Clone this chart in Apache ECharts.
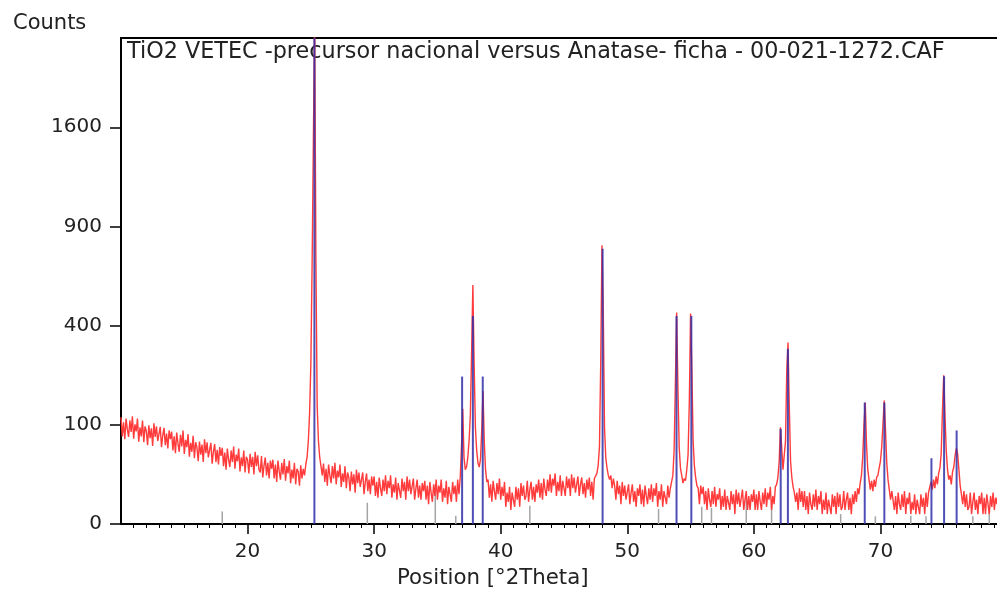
<!DOCTYPE html>
<html>
<head>
<meta charset="utf-8">
<script src="https://cdn.jsdelivr.net/npm/echarts@6/dist/echarts.min.js"></script>
<style>
  html, body { margin: 0; padding: 0; background: #fff; overflow: hidden; }
  #chart { width: 1007px; height: 594px; }
</style>
</head>
<body>
<div id="chart"></div>
<script>
// ---- Data ----
const titleText = 'TiO2 VETEC -precursor nacional versus Anatase- ficha - 00-021-1272.CAF';
const yAxisTitle = 'Counts';
const xAxisTitle = 'Position [°2Theta]';

// measured scan: counts on a regular 2θ grid starting at 10°, step 0.1°
const twoThetaStart = 10;
const twoThetaStep = 0.1;
const scanCounts = [
  116, 78, 105, 73, 113, 91, 77, 109, 86, 118,
  74, 101, 87, 113, 69, 95, 78, 109, 68, 97,
  88, 63, 99, 75, 93, 62, 103, 77, 97, 70,
  68, 96, 60, 80, 94, 63, 83, 58, 89, 73,
  87, 55, 78, 51, 85, 66, 53, 81, 61, 89,
  50, 72, 60, 82, 46, 67, 53, 79, 44, 68,
  60, 40, 69, 49, 64, 39, 73, 51, 68, 45,
  43, 67, 37, 53, 65, 39, 56, 36, 60, 47,
  59, 34, 52, 30, 58, 42, 33, 55, 39, 61,
  31, 49, 40, 58, 28, 45, 34, 55, 27, 46,
  42, 26, 50, 33, 46, 25, 53, 34, 48, 30,
  27, 47, 22, 35, 45, 24, 38, 21, 41, 31,
  42, 21, 36, 18, 41, 28, 20, 38, 25, 43,
  19, 34, 26, 41, 17, 30, 21, 38, 16, 31,
  28, 15, 35, 21, 31, 24, 36, 45, 70, 125,
  260, 690, 1500, 2600, 700, 140, 70, 45, 34, 24,
  37, 18, 31, 15, 36, 24, 17, 34, 21, 38,
  16, 29, 22, 36, 14, 26, 18, 34, 13, 27,
  22, 11, 28, 16, 25, 10, 30, 17, 27, 14,
  13, 27, 9, 18, 26, 11, 20, 9, 23, 15,
  23, 8, 18, 7, 22, 13, 8, 20, 11, 24,
  9, 19, 13, 24, 7, 16, 10, 22, 6, 17,
  16, 7, 21, 11, 18, 6, 23, 11, 20, 9,
  9, 21, 6, 13, 20, 7, 15, 6, 17, 11,
  19, 6, 15, 4, 18, 10, 5, 16, 8, 20,
  6, 15, 10, 20, 5, 13, 7, 19, 4, 14,
  13, 5, 18, 9, 15, 5, 20, 9, 22, 60,
  135, 45, 30, 33, 45, 70, 120, 300, 580, 260,
  95, 55, 38, 33, 42, 90, 180, 70, 30, 18,
  20, 7, 16, 5, 19, 11, 6, 17, 9, 21,
  6, 14, 8, 18, 3, 10, 5, 14, 2, 10,
  10, 3, 14, 6, 13, 3, 17, 8, 15, 6,
  8, 19, 5, 12, 18, 6, 14, 5, 16, 10,
  20, 7, 17, 6, 21, 12, 8, 20, 11, 25,
  10, 21, 15, 26, 8, 18, 11, 24, 8, 19,
  18, 8, 23, 13, 21, 8, 25, 13, 22, 10,
  10, 23, 8, 16, 22, 9, 17, 7, 20, 12,
  22, 8, 18, 6, 21, 22, 26, 35, 60, 260,
  790, 470, 95, 45, 32, 24, 20, 24, 13, 21,
  15, 6, 19, 9, 15, 4, 18, 8, 15, 6,
  6, 16, 4, 10, 16, 5, 11, 3, 13, 8,
  16, 4, 12, 3, 15, 8, 4, 13, 6, 16,
  5, 13, 8, 17, 3, 11, 6, 16, 3, 11,
  11, 4, 15, 7, 13, 18, 24, 55, 200, 455,
  190, 60, 32, 24, 17, 21, 19, 30, 48, 150,
  450, 250, 70, 35, 22, 15, 13, 4, 15, 9,
  14, 4, 11, 2, 13, 6, 3, 11, 4, 14,
  3, 9, 6, 13, 2, 8, 3, 12, 2, 8,
  7, 2, 11, 4, 9, 1, 12, 4, 10, 3,
  3, 12, 2, 6, 11, 2, 8, 2, 9, 5,
  12, 2, 9, 2, 11, 5, 2, 10, 4, 13,
  3, 10, 6, 14, 2, 8, 4, 14, 16, 22,
  40, 95, 60, 30, 28, 70, 240, 335, 140, 40,
  22, 14, 10, 5, 10, 2, 13, 5, 11, 3,
  11, 2, 8, 1, 10, 4, 2, 9, 3, 12,
  2, 8, 4, 11, 1, 6, 2, 10, 1, 6,
  6, 1, 9, 3, 8, 1, 10, 3, 9, 2,
  3, 11, 2, 6, 10, 2, 7, 1, 9, 4,
  11, 5, 13, 9, 17, 24, 45, 100, 150, 65,
  30, 20, 12, 19, 11, 20, 14, 22, 24, 32,
  40, 60, 100, 155, 90, 38, 20, 12, 6, 11,
  10, 2, 8, 1, 10, 4, 2, 9, 3, 11,
  1, 7, 4, 10, 1, 5, 2, 9, 1, 6,
  6, 1, 9, 3, 7, 1, 10, 3, 10, 14,
  18, 12, 20, 13, 23, 16, 26, 32, 50, 130,
  225, 120, 55, 30, 20, 24, 16, 28, 33, 48,
  58, 50, 30, 15, 9, 4, 11, 3, 9, 2,
  3, 10, 1, 5, 10, 2, 6, 1, 8, 4,
  10, 1, 7, 1, 9, 4, 1, 8, 3, 10,
  2, 7, 4, 11, 1, 6, 2, 10, 1, 6,
  5
];

// reference pattern (Anatase 00-021-1272) sticks: positions and heights in counts
const anatasePositions = [25.28, 36.95, 37.80, 38.58, 48.05, 53.89, 55.06, 62.12, 62.69, 68.76, 70.31, 74.03, 75.03, 76.02];
const anataseHeights   = [2401, 221, 440, 221, 770, 440, 440, 92, 312, 150, 150, 44, 222, 89];

// secondary (grey) reference sticks
const greyPositions = [18.0, 29.46, 34.83, 36.45, 42.3, 52.47, 55.88, 56.65, 59.4, 61.4, 66.86, 69.6, 72.4, 73.6, 77.3, 78.6];
const greyHeights   = [1.6, 4.6, 16, 0.7, 3.4, 2.3, 3.0, 2.7, 7.7, 4.5, 1.0, 0.6, 0.7, 0.6, 0.6, 1.6];

// axis ticks
const xTickValues = [20, 30, 40, 50, 60, 70];
const yTickCounts = [0, 100, 400, 900, 1600];

// ---- Build chart (square-root intensity scale) ----
const FONT = "'DejaVu Sans', sans-serif";
const TEXT = '#222';
const sq = v => Math.sqrt(v);

const scanData = scanCounts.map((c, i) => [+(twoThetaStart + i * twoThetaStep).toFixed(2), sq(c)]);
const anataseData = anatasePositions.map((p, i) => [p, sq(anataseHeights[i])]);
const greyData = greyPositions.map((p, i) => [p, sq(greyHeights[i])]);
const yTickValues = yTickCounts.map(sq);

function stickRenderer(color, width, opacity) {
  return function (params, api) {
    const x = api.value(0);
    const h = api.value(1);
    const p0 = api.coord([x, 0]);
    const p1 = api.coord([x, h]);
    return {
      type: 'line',
      shape: { x1: p0[0], y1: p0[1], x2: p1[0], y2: p1[1] },
      style: { stroke: color, lineWidth: width, opacity: opacity }
    };
  };
}

const chart = echarts.init(document.getElementById('chart'), null, { renderer: 'canvas' });
chart.setOption({
  animation: false,
  backgroundColor: '#fff',
  grid: { left: 121, top: 38, bottom: 70, right: 0, show: true, borderColor: '#000', borderWidth: 2, backgroundColor: 'transparent' },
  xAxis: {
    type: 'value', min: 10, max: 80, interval: 10,
    axisLine: { show: true, onZero: false, lineStyle: { color: '#000', width: 2 } },
    axisTick: { show: true, customValues: xTickValues, length: 10, lineStyle: { color: '#000', width: 1.5 } },
    minorTick: { show: true, splitNumber: 10, length: 4, lineStyle: { color: '#000', width: 1 } },
    axisLabel: { customValues: xTickValues, margin: 18, color: TEXT, fontSize: 20, fontFamily: FONT },
    splitLine: { show: false }, minorSplitLine: { show: false }
  },
  yAxis: {
    type: 'value', min: 0, max: 49, interval: 10,
    axisLine: { show: true, onZero: false, lineStyle: { color: '#000', width: 2 } },
    axisTick: { show: true, customValues: yTickValues, length: 11, lineStyle: { color: '#000', width: 1.5 } },
    axisLabel: {
      customValues: yTickValues, margin: 19, color: TEXT, fontSize: 20, fontFamily: FONT,
      formatter: v => String(Math.round(v * v))
    },
    splitLine: { show: false }
  },
  graphic: [
    { type: 'text', left: 13, top: 13, style: { text: yAxisTitle, fill: TEXT, font: '21px ' + FONT } },
    { type: 'text', left: 127, top: 41, style: { text: titleText, fill: TEXT, font: '22.3px ' + FONT } },
    { type: 'text', left: 397, top: 568, style: { text: xAxisTitle, fill: TEXT, font: '21.3px ' + FONT } }
  ],
  series: [
    {
      type: 'custom', name: 'grey', z: 1,
      renderItem: stickRenderer('#a4a4a4', 1.5, 1),
      encode: { x: 0, y: 1 },
      data: greyData
    },
    {
      type: 'line', name: 'scan', z: 2, clip: true,
      showSymbol: false, symbol: 'none',
      lineStyle: { color: '#ff3b3b', width: 1.4 },
      data: scanData
    },
    {
      type: 'custom', name: 'Anatase', z: 3,
      renderItem: stickRenderer('#2f2fa8', 2, 0.85),
      encode: { x: 0, y: 1 },
      data: anataseData
    }
  ]
});
</script>
</body>
</html>
